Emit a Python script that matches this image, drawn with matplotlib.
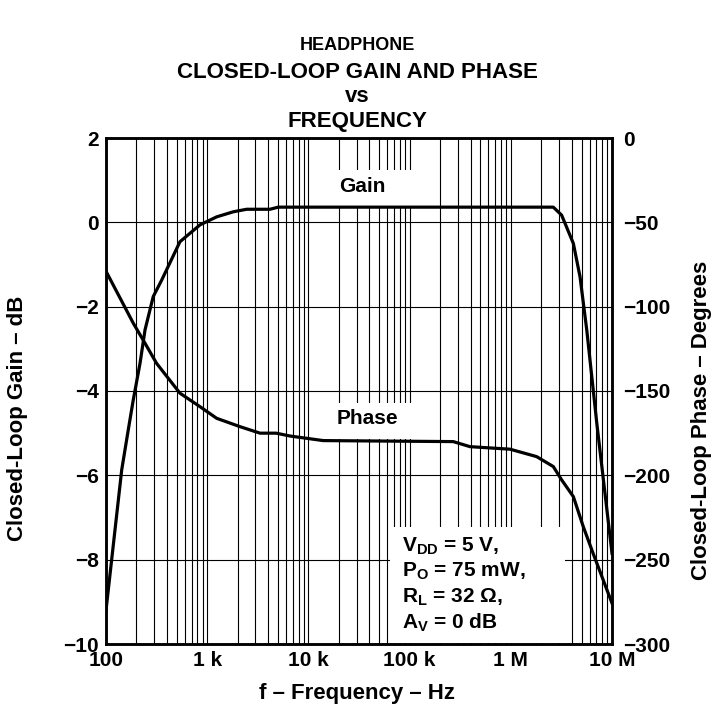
import matplotlib
matplotlib.use("Agg")
import matplotlib.pyplot as plt
from matplotlib.patches import Rectangle
from matplotlib.ticker import FixedLocator, NullFormatter

plt.rcParams['font.family'] = ['Liberation Sans', 'DejaVu Sans']
plt.rcParams['font.weight'] = 'bold'
plt.rcParams['mathtext.fontset'] = 'custom'
plt.rcParams['mathtext.rm'] = 'Liberation Sans:bold'
plt.rcParams['mathtext.it'] = 'Liberation Sans:bold'
plt.rcParams['mathtext.bf'] = 'Liberation Sans:bold'

# Gain curve (Hz, dB)
gain_f = [100, 143, 166, 186, 217, 243, 293, 355, 538, 849, 1241, 1811, 2455, 4170, 5030,
          100e3, 1e6, 2.63e6, 3.18e6, 4.15e6, 4.83e6, 5.63e6, 7.08e6, 10e6]
gain_db = [-9.2, -5.87, -4.92, -4.21, -3.34, -2.55, -1.76, -1.37, -0.46, -0.06, 0.13, 0.25, 0.31, 0.31, 0.36,
           0.36, 0.36, 0.36, 0.17, -0.50, -1.29, -2.55, -4.77, -7.85]

# Phase curve (Hz, degrees)
phase_f = [100, 186, 243, 316, 538, 849, 1241, 2100, 3325, 4800, 6600, 14000, 270e3, 395e3,
           982e3, 1.8e6, 2.63e6, 3.18e6, 4.15e6, 5.2e6, 6.5e6, 10e6]
phase_deg = [-79, -109.8, -121.7, -133.6, -151.3, -159.3, -166.2, -171.1, -175, -175, -176.7, -179.4, -180, -183,
             -184.5, -188.9, -194.8, -202.7, -212.6, -230.4, -246.2, -275.8]

x_ticks = [1e2, 1e3, 1e4, 1e5, 1e6, 1e7]
x_tick_labels = ['100', '1 k', '10 k', '100 k', '1 M', '10 M']
gain_ticks = [-10, -8, -6, -4, -2, 0, 2]
gain_tick_labels = ['\u221210', '\u22128', '\u22126', '\u22124', '\u22122', '0', '2']
phase_ticks = [-300, -250, -200, -150, -100, -50, 0]
phase_tick_labels = ['\u2212300', '\u2212250', '\u2212200', '\u2212150', '\u2212100', '\u221250', '0']
minor_ticks = [m * 10 ** e for e in range(2, 7) for m in range(2, 10)]

TICK_FS = 15
LAB_FS = 16

fig = plt.figure(figsize=(7.13, 7.07), dpi=100)
ax = fig.add_axes([106 / 713, 1 - 644 / 707, 506 / 713, 506 / 707])
ax.set_xscale('log')
ax.set_xlim(100, 1e7)
ax.set_ylim(-10, 2)
ax.xaxis.set_major_locator(FixedLocator(x_ticks))
ax.xaxis.set_minor_locator(FixedLocator(minor_ticks))
ax.xaxis.set_minor_formatter(NullFormatter())
ax.set_xticklabels(x_tick_labels)
ax.set_yticks(gain_ticks)
ax.set_yticklabels(gain_tick_labels)
ax.grid(True, which='both', axis='x', color='black', lw=0.8)
ax.grid(True, which='major', axis='y', color='black', lw=0.8)
ax.tick_params(which='both', length=0, labelsize=TICK_FS, pad=5)
for s in ax.spines.values():
    s.set_linewidth(1.8)
ax.set_axisbelow(True)

# white masks behind labels
def mask(x0, y0, x1, y1):
    ax.add_patch(Rectangle(((x0 - 106) / 506, (644 - y1) / 506), (x1 - x0) / 506, (y1 - y0) / 506,
                           transform=ax.transAxes, facecolor='white', edgecolor='none', zorder=1.5))

mask(328, 170, 422, 206)
mask(328, 403, 422, 439)
mask(390, 527, 565, 643)

ax.plot(gain_f, gain_db, color='black', lw=2.3, zorder=3)

ax2 = ax.twinx()
ax2.set_ylim(-300, 0)
ax2.set_yticks(phase_ticks)
ax2.set_yticklabels(phase_tick_labels)
ax2.tick_params(length=0, labelsize=TICK_FS, pad=8)
ax2.plot(phase_f, phase_deg, color='black', lw=2.3, zorder=3)
for s in ax2.spines.values():
    s.set_linewidth(1.8)

fig.text(357 / 713, 1 - 693 / 707, 'f \u2013 Frequency \u2013 Hz', ha='center', va='center',
         fontsize=LAB_FS, fontweight='bold')
fig.text(18 / 713, 1 - 418 / 707, 'Closed-Loop Gain \u2013 dB', ha='center', va='center', rotation=90,
         fontsize=LAB_FS, fontweight='bold')
fig.text(701 / 713, 1 - 420 / 707, 'Closed-Loop Phase \u2013 Degrees', ha='center', va='center', rotation=90,
         fontsize=LAB_FS, fontweight='bold')

ax.text(3.4e4, 0.85, 'Gain', ha='center', va='center', fontsize=TICK_FS, fontweight='bold', zorder=4)
ax.text(3.8e4, -4.65, 'Phase', ha='center', va='center', fontsize=TICK_FS, fontweight='bold', zorder=4)

info = [r'V$_{\mathrm{DD}}$ = 5 V,', r'P$_{\mathrm{O}}$ = 75 mW,', r'R$_{\mathrm{L}}$ = 32 $\Omega$,',
        r'A$_{\mathrm{V}}$ = 0 dB']
for i, t in enumerate(info):
    fig.text(402 / 713, 1 - (546 + i * 25.5) / 707, t, fontsize=TICK_FS, fontweight='bold', va='center', ha='left')

fig.text(357 / 713, 1 - 46 / 707, 'HEADPHONE', ha='center', va='center', fontsize=13, fontweight='bold')
fig.text(357 / 713, 1 - 72 / 707, 'CLOSED-LOOP GAIN AND PHASE', ha='center', va='center', fontsize=16, fontweight='bold')
fig.text(357 / 713, 1 - 97 / 707, 'vs', ha='center', va='center', fontsize=16, fontweight='bold')
fig.text(357 / 713, 1 - 122 / 707, 'FREQUENCY', ha='center', va='center', fontsize=16, fontweight='bold')

fig.savefig('out.png', dpi=100, facecolor='white')
